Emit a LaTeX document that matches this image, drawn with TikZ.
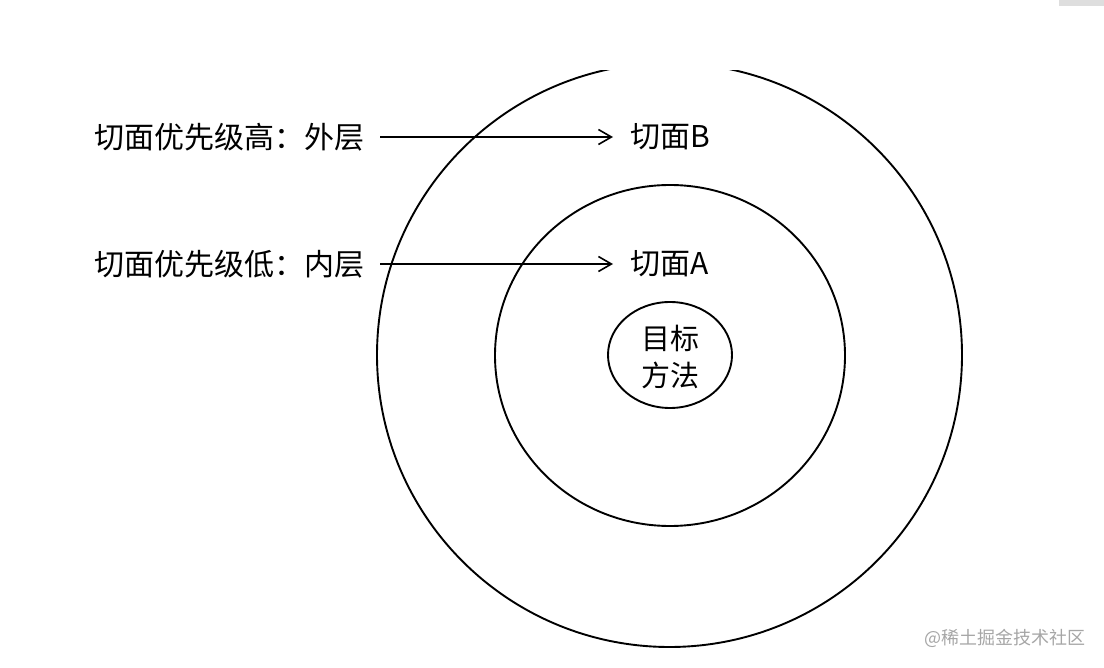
\documentclass[tikz,border=0pt]{standalone}
\usepackage{fontspec}
\setmainfont{Noto Sans CJK SC}
\usetikzlibrary{arrows.meta,shapes.geometric}
\begin{document}
\begin{tikzpicture}[x=1pt,y=-1pt,
  lbl/.style={font=\fontsize{30}{36}\selectfont, inner sep=0pt, text=black},
  ring/.style={line width=1.9pt, draw=black},
  conn/.style={line width=1.6pt, draw=black, -{Straight Barb[length=13pt,width=15pt,line width=1.6pt]}}]
\useasboundingbox (0,0) rectangle (1104,668);
\fill[black!13] (1059,0) rectangle (1104,6);
% outer ring (top slightly cut)
\begin{scope}
  \clip (0,71) rectangle (1104,668);
  \draw[ring] (669.5,355) ellipse (292.5pt and 292pt);
\end{scope}
% inner ring
\draw[ring] (670,355.5) ellipse (175pt and 170.5pt);
% target
\node[ring, draw, ellipse, minimum width=124pt, minimum height=106pt, inner sep=0pt] (target) at (670,355) {};
\node[lbl, align=center, font=\fontsize{29}{37}\selectfont] (ttext) at (670,357) {目标\\方法};
% labels
\node[lbl, anchor=east] (hi) at (365,137) {切面优先级高：外层};
\node[lbl, anchor=east] (lo) at (365,264) {切面优先级低：内层};
\node[lbl, anchor=west] (B) at (630,137) {切面B};
\node[lbl, anchor=west] (A) at (630,264) {切面A};
\draw[conn, shorten <=15pt, shorten >=17pt] (hi.east) -- (B.west);
\draw[conn, shorten <=15pt, shorten >=17pt] (lo.east) -- (A.west);
% watermark
\node[font=\fontsize{18}{20}\selectfont, text=black!35, inner sep=0pt, anchor=east] (wm) at (1086,638) {@稀土掘金技术社区};
\end{tikzpicture}
\end{document}
